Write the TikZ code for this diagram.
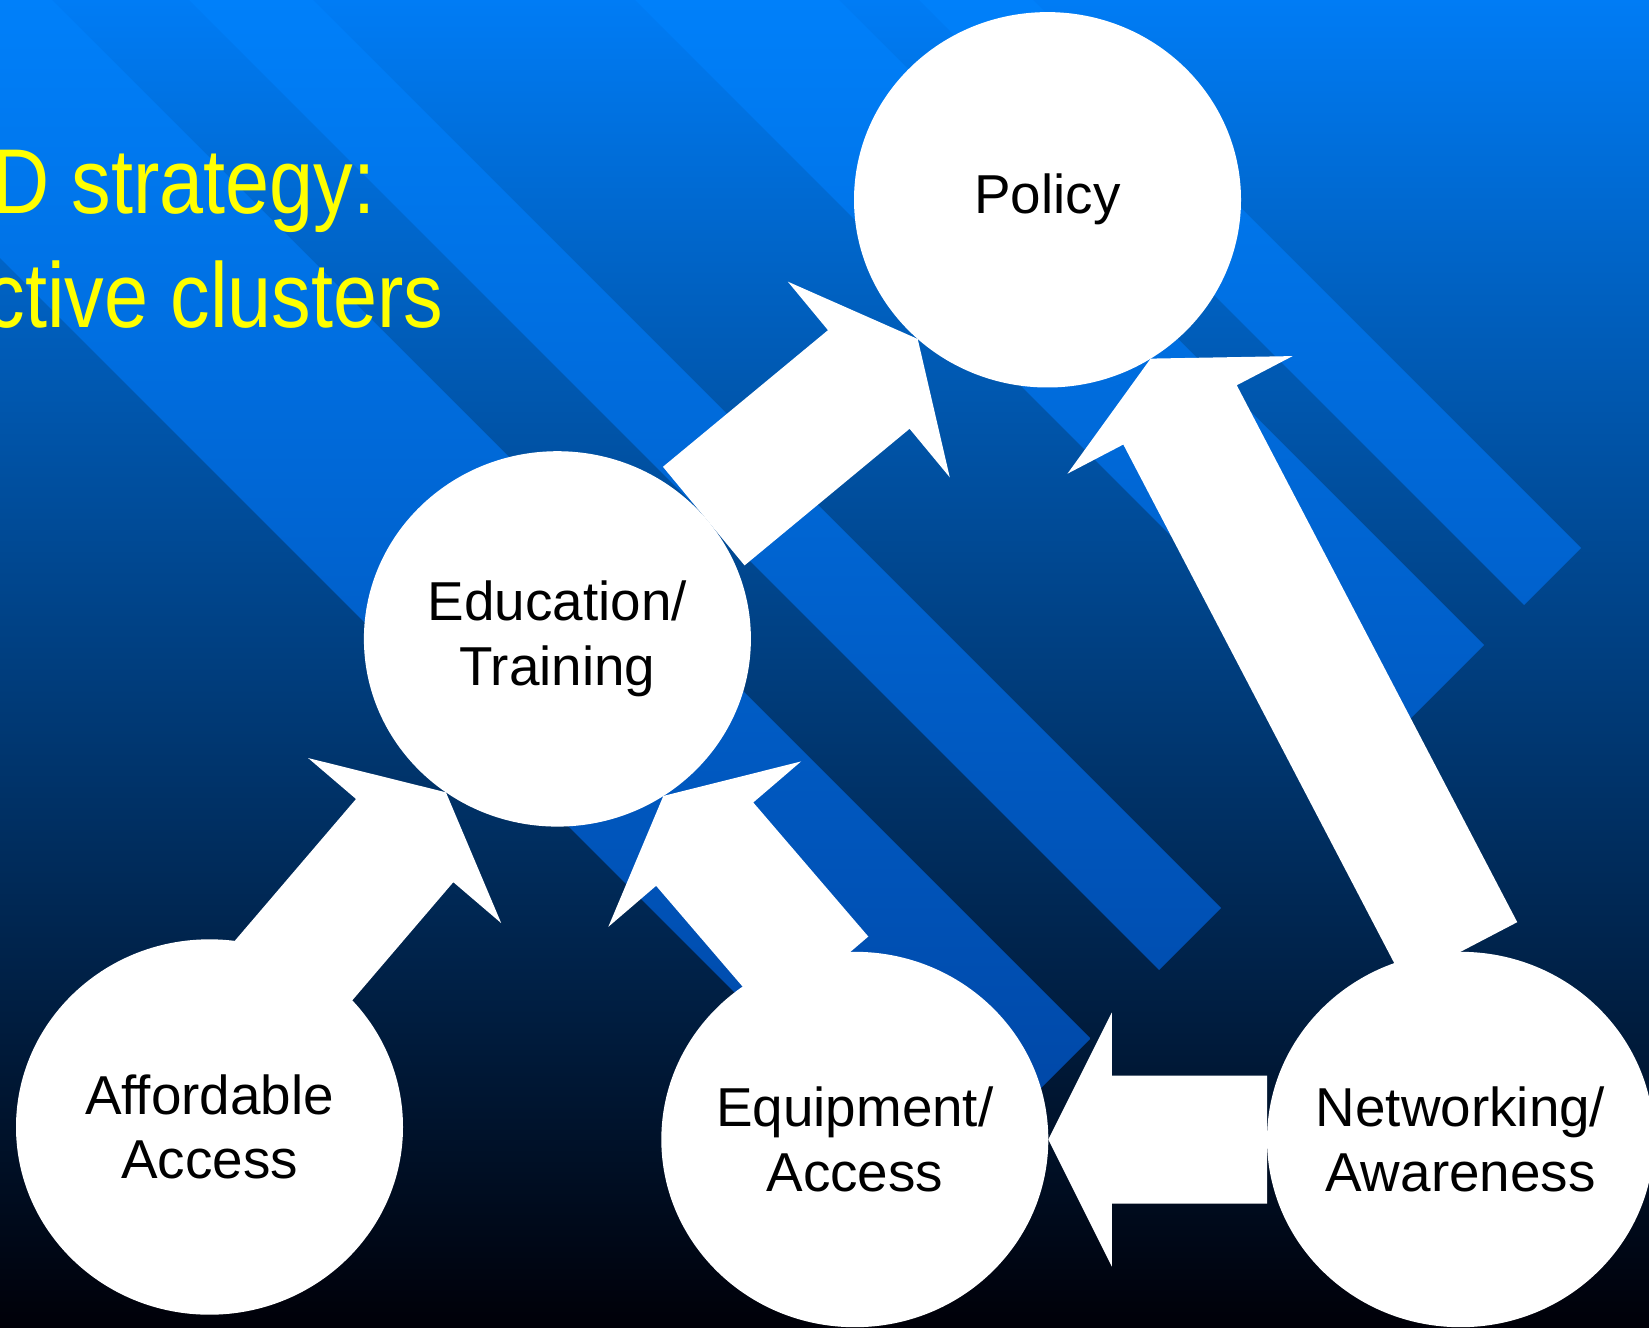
\documentclass[tikz,border=0pt]{standalone}
\usepackage{fontspec}
\setmainfont{Liberation Sans}
\newfontfamily\narrowsans[FakeStretch=0.86]{Liberation Sans}
\usetikzlibrary{calc,shapes.geometric}

\definecolor{bgtop}{RGB}{0,124,245}
\definecolor{bgmid}{RGB}{0,64,140}
\definecolor{bgbot}{RGB}{0,0,8}
\definecolor{stripetop}{RGB}{0,128,250}
\definecolor{stripebot}{RGB}{0,60,150}
\definecolor{titleyellow}{RGB}{255,255,0}

\pgfdeclarelayer{back}
\pgfdeclarelayer{arrows}
\pgfsetlayers{back,arrows,main}

\newcommand{\fatarrow}[2]{%
    \coordinate (fa-base) at ($(#2)!0.635cm!(#1)$);
    \fill[white] ($(#1)!0.64cm!90:(#2)$) -- ($(fa-base)!0.64cm!-90:(#1)$)
        -- ($(fa-base)!1.27cm!-90:(#1)$) -- (#2) -- ($(fa-base)!1.27cm!90:(#1)$)
        -- ($(fa-base)!0.64cm!90:(#1)$) -- ($(#1)!0.64cm!-90:(#2)$) -- cycle;
}

\begin{document}
\begin{tikzpicture}[
        bubble/.style={ellipse, fill=white, minimum width=3.87cm, minimum height=3.754cm, inner sep=0pt, outer sep=0pt},
        bubbletext/.style={align=center, text=black, font=\fontsize{15.6}{18.3}\selectfont},
        titletext/.style={anchor=base west, text=titleyellow, inner sep=0pt, font=\narrowsans\fontsize{26.2}{30}\selectfont},
    ]
    \useasboundingbox (0, 0) rectangle (16.49, 13.27);

    \begin{pgfonlayer}{back}
        \shade[top color=bgtop, middle color=bgmid, bottom color=bgbot] (0, 0) rectangle (16.49, 13.27);
        \foreach \ka/\kb in {23.60/22.46, 21.66/19.62, 16.40/15.16, 13.79/10.69} {
            \begin{scope}
                \clip (-2, {\ka + 2}) -- ({(\ka + 8.02) / 2}, {(\ka - 8.02) / 2})
                    -- ({(\kb + 8.02) / 2}, {(\kb - 8.02) / 2}) -- (-2, {\kb + 2}) -- cycle;
                \shade[top color=stripetop, bottom color=stripebot] (0, 0) rectangle (16.49, 13.27);
            \end{scope}
        }
    \end{pgfonlayer}

    \node[titletext] (line1) at (-0.08, 11.137) {D strategy:};
    \node[titletext] (line2) at (-0.15, 9.99) {ctive clusters};

    \node[bubble, label={[bubbletext]center:Policy}] (pol) at (10.475, 11.272) {};
    \node[bubble, label={[bubbletext]center:{Education/\\Training}}] (edu) at (5.574, 6.881) {};
    \node[bubble, label={[bubbletext]center:{Affordable\\Access}}] (aff) at (2.095, 2.0) {};
    \node[bubble, label={[bubbletext]center:{Equipment/\\Access}}] (equip) at (8.548, 1.875) {};
    \node[bubble, label={[bubbletext]center:{Networking/\\Awareness}}] (net) at (14.605, 1.875) {};

    \begin{pgfonlayer}{arrows}
        \fatarrow{edu.40}{pol.227}
        \fatarrow{net.north}{pol.303}
        \coordinate (aff-in) at ($(edu.234)!1.35!(aff.61)$);
        \fatarrow{aff-in}{edu.234}
        \coordinate (equip-in) at ($(edu.304)!1.12!(equip.106)$);
        \fatarrow{equip-in}{edu.304}
        \fatarrow{net.west}{equip.east}
    \end{pgfonlayer}
\end{tikzpicture}
\end{document}
